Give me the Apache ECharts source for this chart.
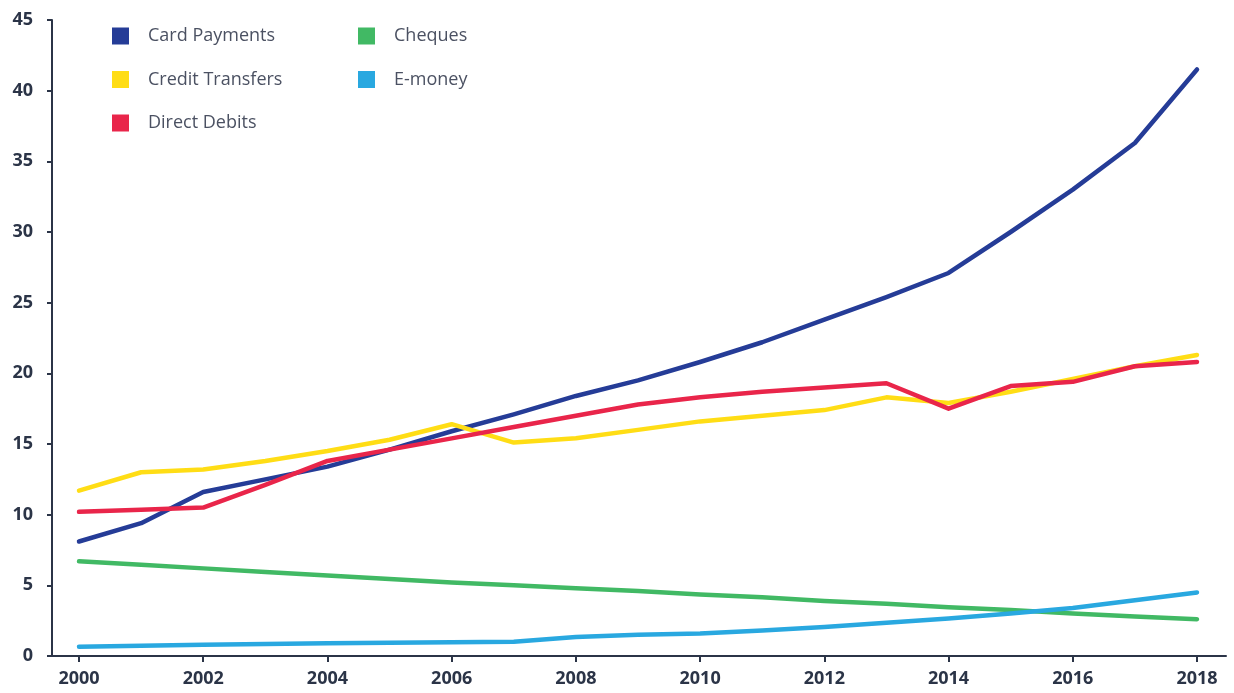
<!DOCTYPE html>
<html>
<head>
<meta charset="utf-8">
<script src="https://cdn.jsdelivr.net/npm/echarts@6/dist/echarts.min.js"></script>
<style>
html,body{margin:0;padding:0;background:#fff;}
#chart{width:1234px;height:693px;}
</style>
</head>
<body>
<div id="chart"></div>
<script>
const years = [2000,2001,2002,2003,2004,2005,2006,2007,2008,2009,2010,2011,2012,2013,2014,2015,2016,2017,2018];
const xTickLabels = [2000,2002,2004,2006,2008,2010,2012,2014,2016,2018];
const yTicks = [0,5,10,15,20,25,30,35,40,45];

const cardPayments    = [8.1,9.4,11.6,12.5,13.4,14.6,15.9,17.1,18.4,19.5,20.8,22.2,23.8,25.4,27.1,30.0,33.0,36.3,41.5];
const creditTransfers = [11.7,13.0,13.2,13.8,14.5,15.3,16.4,15.1,15.4,16.0,16.6,17.0,17.4,18.3,17.9,18.7,19.6,20.5,21.3];
const directDebits    = [10.2,10.35,10.5,12.1,13.8,14.6,15.4,16.2,17.0,17.8,18.3,18.7,19.0,19.3,17.5,19.1,19.4,20.5,20.8];
const cheques         = [6.7,6.45,6.2,5.95,5.7,5.45,5.2,5.0,4.8,4.6,4.35,4.15,3.9,3.7,3.45,3.25,3.0,2.8,2.6];
const eMoney          = [0.65,0.72,0.8,0.85,0.9,0.93,0.97,1.0,1.35,1.5,1.6,1.8,2.05,2.35,2.65,3.0,3.4,3.95,4.5];

const seriesDefs = [
  {name:'Card Payments', data:cardPayments, color:'#253c97'},
  {name:'Credit Transfers', data:creditTransfers, color:'#ffdd15'},
  {name:'Direct Debits', data:directDebits, color:'#e9254a'},
  {name:'Cheques', data:cheques, color:'#41b964'},
  {name:'E-money', data:eMoney, color:'#29a8e0'}
];

const axisColor = '#2b3447';
const fontFamily = '"Open Sans", "Noto Sans", sans-serif';

const chart = echarts.init(document.getElementById('chart'), null, {renderer:'canvas'});
const legendCommon = {
  orient:'vertical',
  icon:'rect',
  itemWidth:17,
  itemHeight:17,
  itemGap:25.5,
  padding:0,
  selectedMode:false,
  textStyle:{color:'#4b5162', fontSize:18, fontFamily:fontFamily, padding:[0,0,0,14]}
};
chart.setOption({
  animation:false,
  backgroundColor:'#fff',
  grid:{left:52, right:8, top:20, bottom:37, containLabel:false},
  legend:[
    Object.assign({left:112, top:27, data:['Card Payments','Credit Transfers','Direct Debits']}, legendCommon),
    Object.assign({left:358, top:27, data:['Cheques','E-money']}, legendCommon)
  ],
  xAxis:{
    type:'value',
    min:1999.565,
    max:2018.467,
    splitLine:{show:false},
    axisLine:{show:true, lineStyle:{color:axisColor, width:2}},
    axisTick:{show:true, length:6, lineStyle:{color:axisColor, width:2}, customValues:xTickLabels},
    axisLabel:{color:axisColor, fontSize:18, fontWeight:'bold', fontFamily:fontFamily, margin:14, customValues:xTickLabels, formatter:v=>String(v)}
  },
  yAxis:{
    type:'value',
    min:0, max:45, interval:5,
    splitLine:{show:false},
    axisLine:{show:true, lineStyle:{color:axisColor, width:2}},
    axisTick:{show:true, length:5, lineStyle:{color:axisColor, width:2}},
    axisLabel:{color:axisColor, fontSize:18, fontWeight:'bold', fontFamily:fontFamily, margin:19}
  },
  series:seriesDefs.map(s=>({
    name:s.name,
    type:'line',
    data:years.map((y,i)=>[y, s.data[i]]),
    symbol:'none',
    color:s.color,
    lineStyle:{color:s.color, width:4.5, cap:'round', join:'round'},
    itemStyle:{color:s.color}
  }))
});
</script>
</body>
</html>
